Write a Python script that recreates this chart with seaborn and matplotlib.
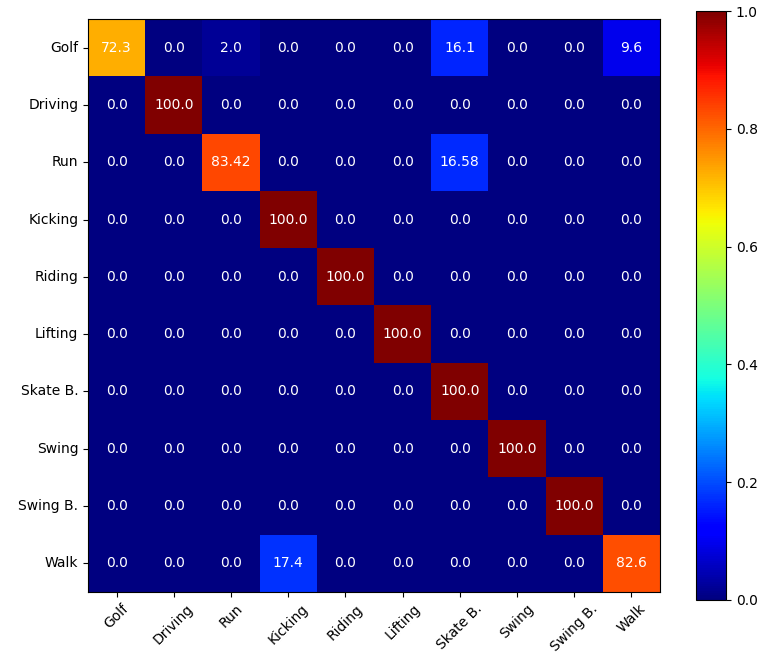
import numpy as np
import seaborn as sns
from matplotlib import pyplot as plt

classes = ["Golf", "Driving", "Run", "Kicking", "Riding",
           "Lifting", "Skate B.", "Swing", "Swing B.", "Walk"]

# confusion matrix in percent, as printed in the cells
golf = [72.3, 0.0, 2.0, 0.0, 0.0, 0.0, 16.1, 0.0, 0.0, 9.6]
driving = [0.0, 100.0, 0.0, 0.0, 0.0, 0.0, 0.0, 0.0, 0.0, 0.0]
run = [0.0, 0.0, 83.42, 0.0, 0.0, 0.0, 16.58, 0.0, 0.0, 0.0]
kicking = [0.0, 0.0, 0.0, 100.0, 0.0, 0.0, 0.0, 0.0, 0.0, 0.0]
riding = [0.0, 0.0, 0.0, 0.0, 100.0, 0.0, 0.0, 0.0, 0.0, 0.0]
lifting = [0.0, 0.0, 0.0, 0.0, 0.0, 100.0, 0.0, 0.0, 0.0, 0.0]
skate = [0.0, 0.0, 0.0, 0.0, 0.0, 0.0, 100.0, 0.0, 0.0, 0.0]
swing = [0.0, 0.0, 0.0, 0.0, 0.0, 0.0, 0.0, 100.0, 0.0, 0.0]
swing_b = [0.0, 0.0, 0.0, 0.0, 0.0, 0.0, 0.0, 0.0, 100.0, 0.0]
walk = [0.0, 0.0, 0.0, 17.4, 0.0, 0.0, 0.0, 0.0, 0.0, 82.6]

cm = np.array([golf, driving, run, kicking, riding,
               lifting, skate, swing, swing_b, walk])
labels = np.array([[("%.2f" % v if round(v, 1) != v else "%.1f" % v) for v in row] for row in cm])

fig = plt.figure(figsize=(7.67, 6.68), dpi=100)
ax = fig.add_axes([0.1147, 0.1138, 0.7458, 0.8578])
cax = fig.add_axes([0.9074, 0.1018, 0.0391, 0.8817])

sns.heatmap(cm / 100.0, ax=ax, cbar_ax=cax, cmap="jet", vmin=0, vmax=1,
            annot=labels, fmt="", annot_kws={"color": "white", "fontsize": 10},
            xticklabels=classes, yticklabels=classes, square=False)

for s in ax.spines.values():
    s.set_visible(True)
    s.set_color("black")
    s.set_linewidth(0.8)
ax.tick_params(axis="both", length=3.5, width=0.8, labelsize=10)
plt.setp(ax.get_xticklabels(), rotation=45, ha="center")
plt.setp(ax.get_yticklabels(), rotation=0)

cbar = ax.collections[0].colorbar
cbar.set_ticks([0.0, 0.2, 0.4, 0.6, 0.8, 1.0])
cbar.set_ticklabels(["0.0", "0.2", "0.4", "0.6", "0.8", "1.0"])
cbar.outline.set_visible(True)
cbar.outline.set_edgecolor("black")
cbar.outline.set_linewidth(0.8)
cax.tick_params(length=3.5, width=0.8, labelsize=10)

plt.savefig("out.png", dpi=100)
